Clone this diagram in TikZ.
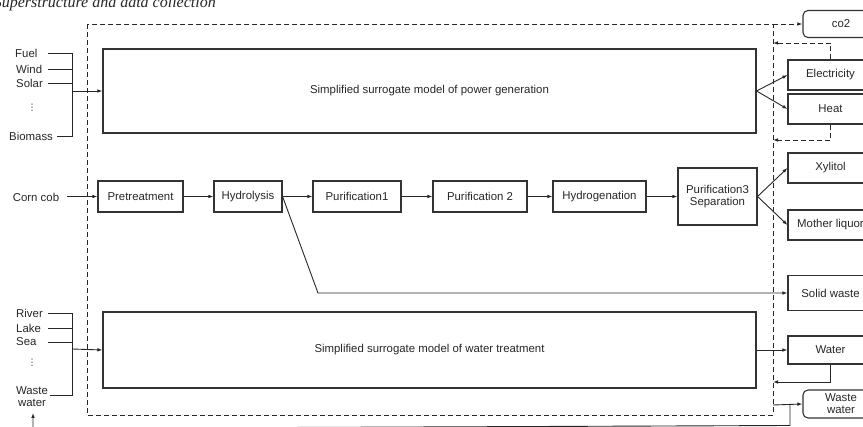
\documentclass[tikz,border=0pt]{standalone}
\usepackage{fontspec}
\setmainfont{Liberation Sans}
\newfontfamily\titlefont{Liberation Serif}
\newfontfamily\symfont{DejaVu Sans}
\usetikzlibrary{arrows.meta}
\begin{document}
\begin{tikzpicture}[x=1pt,y=-1pt,
  font=\fontsize{11.4}{14}\selectfont,
  every node/.style={text=black!85},
  box/.style={draw=black!80, line width=1.1pt, inner sep=0pt, align=center},
  rbox/.style={box, rounded corners=5pt},
  link/.style={draw=black!85, line width=0.9pt},
  flow/.style={link, -{Latex[length=5pt,width=3.6pt]}},
  bound/.style={draw=black!85, line width=0.9pt, dash pattern=on 5pt off 3pt},
  dflow/.style={bound, -{Latex[length=5pt,width=3.6pt]}},
  lbl/.style={inner sep=0pt, anchor=west},
  vdot/.style={inner sep=0pt, font=\symfont\fontsize{9}{9}\selectfont},
  outbox/.style={box, minimum width=85pt},
]
\useasboundingbox (0,0) rectangle (863,427);

% heading
\node[anchor=base east, inner sep=0pt, font=\titlefont\itshape\fontsize{16}{16}\selectfont] (title) at (216,7.5) {a) Superstructure and data collection};

% system boundary
\draw[bound] (87,24) rectangle (773,415);
\coordinate (btr) at (773,24);

% surrogate models
\node[box, minimum width=653pt, minimum height=84pt] (pow) at (429.5,91) {Simplified surrogate model of power generation};
\node[box, minimum width=653pt, minimum height=76pt] (wat) at (429.5,350) {Simplified surrogate model of water treatment};

% process chain
\node[box, minimum width=85pt, minimum height=31pt] (pre) at (140.5,196.5) {Pretreatment};
\node[box, minimum width=68pt, minimum height=31pt] (hyd) at (248,196.5) {Hydrolysis};
\node[box, minimum width=88pt, minimum height=31pt] (pur1) at (357,196.5) {Purification1};
\node[box, minimum width=94pt, minimum height=31pt] (pur2) at (480,196.5) {Purification 2};
\node[box, minimum width=93pt, minimum height=31pt] (hydg) at (599.5,196.5) {Hydrogenation};
\node[box, minimum width=79pt, minimum height=57pt] (pur3) at (717.5,196.5) {Purification3\\[-2pt]Separation};

% products and emissions
\node[rbox, minimum width=76pt, minimum height=27pt] (co2) at (841,24) {co2};
\node[outbox, minimum height=30pt] (elec) at (830.5,75) {Electricity};
\node[outbox, minimum height=30pt] (heat) at (830.5,109) {Heat};
\node[outbox, minimum height=30pt] (xyl) at (830.5,168) {Xylitol};
\node[outbox, minimum height=30pt] (moth) at (830.5,225) {Mother liquor};
\node[outbox, minimum height=35pt] (sol) at (830.5,293) {Solid waste};
\node[outbox, minimum height=28pt] (water) at (830.5,350) {Water};
\node[rbox, minimum width=76pt, minimum height=28pt] (ww) at (841,404) {Waste\\[-2pt]water};

% energy inputs
\node[lbl] (fuel) at (15,53) {Fuel};
\node[lbl] (wind) at (16,69) {Wind};
\node[lbl] (solar) at (16,83) {Solar};
\node[vdot] (edots) at (32,108) {⋮};
\node[lbl] (bio) at (9,136) {Biomass};
\coordinate (fuelL) at (48,53);
\coordinate (windL) at (48,69);
\coordinate (solarL) at (48,83);
\coordinate (bioL) at (57,136);
\coordinate (pbusT) at (72,53);
\coordinate (pbusM) at (72,91);
\coordinate (pbusB) at (72,136);
\draw[link] (fuelL) -- (pbusT) -- (pbusB) -- (bioL);
\draw[link] (windL) -- (windL -| pbusT);
\draw[link] (solarL) -- (solarL -| pbusT);
\draw[flow] (pbusM) -- (pow.west);

% water inputs
\node[lbl] (river) at (16,313) {River};
\node[lbl] (lake) at (16,328) {Lake};
\node[lbl] (sea) at (16,342) {Sea};
\node[vdot] (wdots) at (32,363) {⋮};
\node[inner sep=0pt, align=center] (wwin) at (32,396.5) {Waste\\[-2pt]water};
\coordinate (riverL) at (48,313);
\coordinate (lakeL) at (48,328);
\coordinate (seaL) at (48,342);
\coordinate (wwinL) at (50,395);
\coordinate (wbusT) at (72,313);
\coordinate (wbusM) at (72,349);
\coordinate (wbusB) at (72,395);
\draw[link] (riverL) -- (wbusT) -- (wbusB) -- (wwinL);
\draw[link] (lakeL) -- (lakeL -| wbusT);
\draw[link] (seaL) -- (seaL -| wbusT);
\draw[flow] (wbusM) -- (wat.west);

% corn cob chain
\node[inner sep=0pt] (corn) at (36,197) {Corn cob};
\coordinate (cornL) at (67,196.5);
\draw[flow] (cornL) -- (pre.west);
\draw[flow] (pre) -- (hyd);
\draw[flow] (hyd) -- (pur1);
\draw[flow] (pur1) -- (pur2);
\draw[flow] (pur2) -- (hydg);
\draw[flow] (hydg) -- (pur3);
\draw[flow] (pur3.east) -- (xyl.west);
\draw[flow] (pur3.east) -- (moth.west);
\coordinate (sbend) at (318,293);
\draw[flow] (hyd.east) -- (sbend) -- (sol.west);

% power outputs
\draw[flow] (pow.east) -- (elec.west);
\draw[flow] (pow.east) -- (heat.west);
\draw[dflow] (btr) -- (co2.west);
\coordinate (eret) at (773,43);
\coordinate (hret) at (773,140);
\draw[dflow] (elec.north) |- (eret);
\draw[dflow] (heat.south) |- (hret);

% water outputs and recycle
\draw[flow] (wat.east) -- (water.west);
\coordinate (wret) at (773,382);
\draw[flow] (water.south) |- (wret);
\coordinate (wwsrc) at (773,405);
\coordinate (wwj) at (790,405);
\draw[flow] (wwsrc) -- (ww.west);
\coordinate (rcA) at (790,425.5);
\coordinate (rcB) at (33,428.5);
\coordinate (rcTip) at (33,413);
\draw[flow] (wwj) -- (rcA) -- (rcB) -- (rcTip);
\end{tikzpicture}
\end{document}
